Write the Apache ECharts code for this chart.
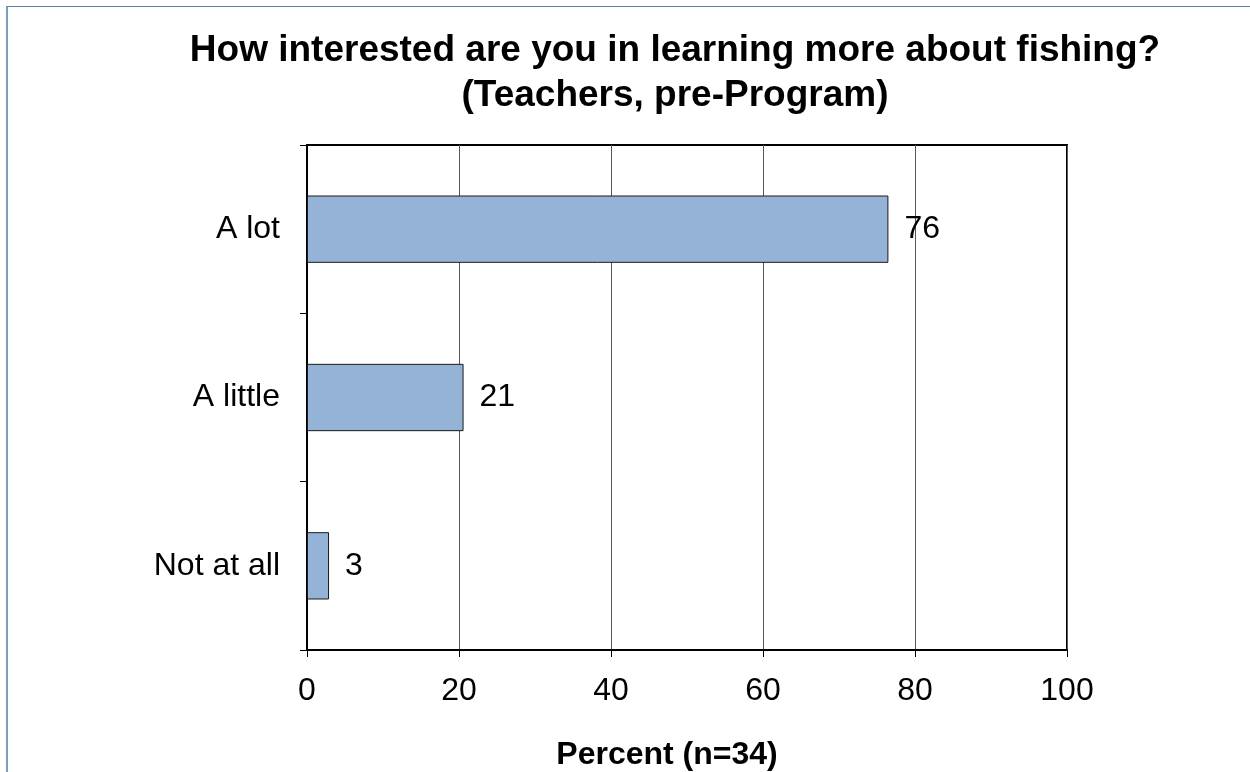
<!DOCTYPE html>
<html>
<head>
<meta charset="utf-8">
<script src="https://cdn.jsdelivr.net/npm/echarts@6/dist/echarts.min.js"></script>
<style>
    html, body {
        margin: 0;
        padding: 0;
        background: #fff;
    }

    #frame {
        position: absolute;
        left: 6px;
        top: 6px;
        width: 1244px;
        height: 766px;
        border-left: 2px solid #7f9dbd;
        border-top: 1px solid #5580b3;
    }

    #chart {
        position: absolute;
        left: 0;
        top: 0;
        width: 1250px;
        height: 772px;
    }
</style>
</head>
<body>
<div id="frame"></div>
<div id="chart"></div>
<script>
    // answers, top to bottom
    var categories = ['A lot', 'A little', 'Not at all'];
    var percents = [76.5, 20.6, 2.9];
    var percentLabels = ['76', '21', '3'];
    var xTicks = [0, 20, 40, 60, 80, 100];

    var font = 'Liberation Sans, Arial, sans-serif';

    var chart = echarts.init(document.getElementById('chart'));
    var option = {
        animation: false,
        title: {
            text: 'How interested are you in learning more about fishing?\n(Teachers, pre-Program)',
            left: 670,
            top: 23,
            textAlign: 'center',
            textStyle: {
                fontFamily: font,
                fontSize: 37,
                fontWeight: 'bold',
                color: '#000',
                lineHeight: 45
            }
        },
        grid: {
            left: 307,
            right: 183,
            top: 145,
            bottom: 122,
            outerBoundsMode: 'none',
            containLabel: false,
            show: true,
            borderWidth: 2,
            borderColor: '#000',
            backgroundColor: '#fff'
        },
        xAxis: {
            type: 'value',
            min: xTicks[0],
            max: xTicks[xTicks.length - 1],
            interval: 20,
            name: 'Percent (n=34)',
            nameLocation: 'middle',
            nameGap: 89,
            nameTextStyle: {
                fontFamily: font,
                fontSize: 32,
                fontWeight: 'bold',
                color: '#000',
                padding: [0, 40, 0, 0]
            },
            axisLine: { show: true, lineStyle: { color: '#000', width: 2 } },
            axisTick: { show: true, length: 7, lineStyle: { color: '#000', width: 1 } },
            axisLabel: {
                margin: 25,
                fontFamily: font,
                fontSize: 32,
                color: '#000'
            },
            splitLine: { show: true, lineStyle: { color: '#555', width: 1 } }
        },
        yAxis: {
            type: 'category',
            inverse: true,
            data: categories,
            axisLine: { show: true, lineStyle: { color: '#000', width: 2 } },
            axisTick: { show: true, length: 7, lineStyle: { color: '#000', width: 1 } },
            axisLabel: {
                margin: 27,
                fontFamily: font,
                fontSize: 32,
                color: '#000',
                padding: [4, 0, 0, 0]
            },
            splitLine: { show: false }
        },
        series: [{
            type: 'bar',
            data: percents,
            barWidth: '40%',
            itemStyle: {
                color: '#95b3d7',
                borderColor: '#1a1a1a',
                borderWidth: 1
            },
            label: {
                show: true,
                position: 'right',
                distance: 16,
                fontFamily: font,
                fontSize: 32,
                color: '#000',
                padding: [4, 0, 0, 0],
                formatter: function (p) {
                    return percentLabels[p.dataIndex];
                }
            }
        }]
    };
    chart.setOption(option);
</script>
</body>
</html>
